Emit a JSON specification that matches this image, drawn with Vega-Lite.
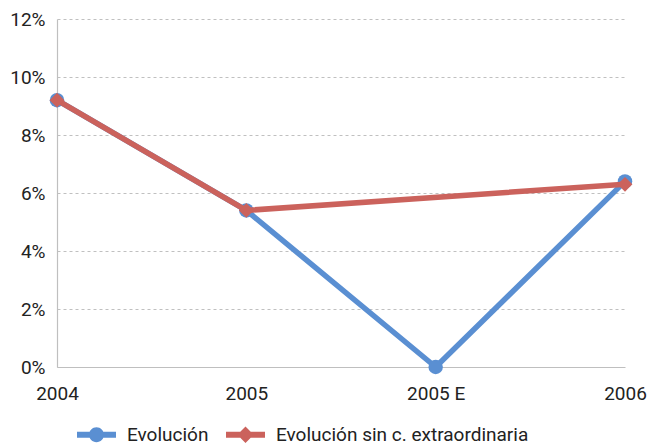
{
  "$schema": "https://vega.github.io/schema/vega-lite/v6.json",
  "width": 568,
  "height": 348,
  "autosize": {"type": "none"},
  "padding": {"left": 57, "top": 19, "right": 26, "bottom": 81},
  "background": "white",
  "config": {
    "font": "Roboto",
    "view": {"stroke": null}
  },
  "data": {
    "values": [
      {"serie": "Evolución", "year": "2004", "value": 9.2},
      {"serie": "Evolución", "year": "2005", "value": 5.4},
      {"serie": "Evolución", "year": "2005 E", "value": 0},
      {"serie": "Evolución", "year": "2006", "value": 6.4},
      {"serie": "Evolución sin c. extraordinaria", "year": "2004", "value": 9.2},
      {"serie": "Evolución sin c. extraordinaria", "year": "2005", "value": 5.4},
      {"serie": "Evolución sin c. extraordinaria", "year": "2006", "value": 6.3}
    ]
  },
  "encoding": {
    "x": {
      "field": "year",
      "type": "ordinal",
      "sort": ["2004", "2005", "2005 E", "2006"],
      "scale": {"type": "point", "padding": 0},
      "axis": {
        "title": null,
        "labelAngle": 0,
        "labelFont": "Roboto",
        "labelFontSize": 19,
        "labelColor": "#222222",
        "labelPadding": 17,
        "labelDx": 5,
        "ticks": false,
        "grid": false,
        "domainColor": "#BFBFBF",
        "domainWidth": 1.2
      }
    },
    "y": {
      "field": "value",
      "type": "quantitative",
      "scale": {"domain": [0, 12], "nice": false},
      "axis": {
        "title": null,
        "values": [0, 2, 4, 6, 8, 10, 12],
        "labelExpr": "datum.value + '%'",
        "labelFont": "Roboto",
        "labelFontSize": 19,
        "labelColor": "#222222",
        "labelPadding": 12,
        "ticks": false,
        "grid": true,
        "gridDash": [3, 3],
        "gridColor": "#C0C0C0",
        "gridWidth": 1,
        "domainColor": "#BFBFBF",
        "domainWidth": 1.2
      }
    },
    "color": {
      "field": "serie",
      "type": "nominal",
      "scale": {
        "domain": ["Evolución", "Evolución sin c. extraordinaria"],
        "range": ["#5A8FD2", "#CB625C"]
      },
      "legend": {
        "orient": "none",
        "legendX": 20,
        "legendY": 396,
        "direction": "horizontal",
        "title": null,
        "padding": 0,
        "symbolSize": 1521,
        "labelFont": "Roboto",
        "labelFontSize": 19,
        "labelColor": "#222222",
        "labelOffset": 11,
        "labelLimit": 400,
        "columnPadding": 17,
        "encode": {
          "symbols": {
            "update": {
              "shape": {"signal": "datum.value === 'Evolución' ? 'M-1,-0.15H1V0.15H-1Z M0.38,0A0.38,0.38,0,1,1,-0.38,0A0.38,0.38,0,1,1,0.38,0Z' : 'M-1,-0.15H1V0.15H-1Z M0,-0.42L0.42,0L0,0.42L-0.42,0Z'"},
              "fill": {"scale": "color", "field": "value"},
              "stroke": {"value": "transparent"},
              "strokeWidth": {"value": 0},
              "opacity": {"value": 1}
            }
          }
        }
      }
    }
  },
  "layer": [
    {
      "transform": [{"filter": "datum.serie === 'Evolución'"}],
      "layer": [
        {"mark": {"type": "line", "strokeWidth": 5.5, "strokeCap": "round", "strokeJoin": "round"}},
        {"mark": {"type": "point", "shape": "circle", "filled": true, "size": 210, "opacity": 1}}
      ]
    },
    {
      "transform": [{"filter": "datum.serie === 'Evolución sin c. extraordinaria'"}],
      "layer": [
        {"mark": {"type": "line", "strokeWidth": 5.5, "strokeCap": "round", "strokeJoin": "round"}},
        {"mark": {"type": "point", "shape": "diamond", "filled": true, "size": 220, "opacity": 1}}
      ]
    }
  ]
}
